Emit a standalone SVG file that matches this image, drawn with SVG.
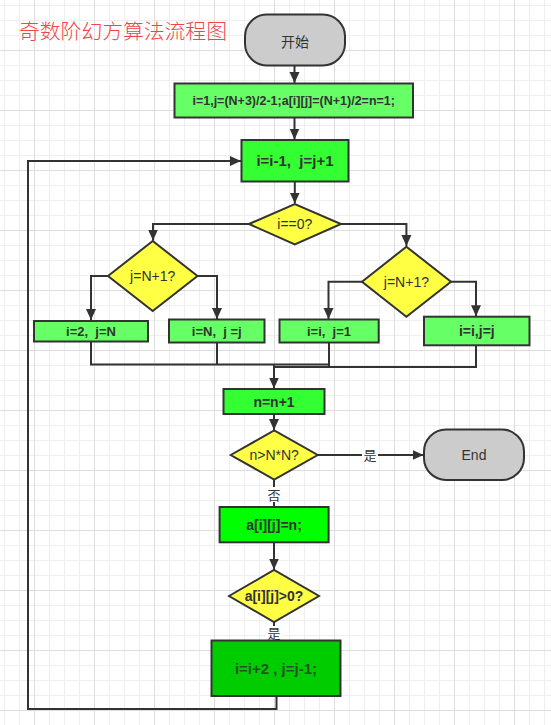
<svg xmlns="http://www.w3.org/2000/svg" width="551" height="725" viewBox="0 0 551 725">
<style>
.sh{stroke:#333;stroke-width:2}
.term{fill:#cccccc}
.dec{fill:#ffff44}
.g1{fill:#66ff66}
.g2{fill:#33ff33}
.g3{fill:#00ff00}
.g4{fill:#00cc00}
.ln{fill:none;stroke:#333;stroke-width:2}
.arr{marker-end:url(#ah)}
text{font-family:"Liberation Sans",Arial,"Noto Sans CJK SC",sans-serif;fill:#333;text-anchor:middle}
.b{font-weight:bold}
.cjk{font-family:"Noto Sans CJK SC","Liberation Sans",sans-serif}
.lblbg{fill:#ffffff}
</style>
<defs>
<pattern id="grid" patternUnits="userSpaceOnUse" x="34" y="50" width="60" height="60">
<path d="M15.5 0V60M30.5 0V60M45.5 0V60M0 15.5H60M0 30.5H60M0 45.5H60" stroke="#efefef" stroke-width="1" fill="none"/>
<path d="M0.5 0V60M0 0.5H60" stroke="#dddddd" stroke-width="1" fill="none"/>
</pattern>
<marker id="ah" markerUnits="userSpaceOnUse" markerWidth="12" markerHeight="12" viewBox="0 0 12 12" refX="11" refY="6" orient="auto">
<path d="M0 1L11 6L0 11Z" fill="#333"/>
</marker>
</defs>
<rect width="551" height="725" fill="#ffffff"/>
<rect width="551" height="725" fill="url(#grid)"/>

<text class="cjk" x="19" y="39" style="text-anchor:start;font-size:20.8px;fill:#ee4646;font-weight:300">奇数阶幻方算法流程图</text>

<g id="connectors">
<path class="ln arr" d="M294.5 65.5V83"/>
<path class="ln arr" d="M294.5 117.5V139.5"/>
<path class="ln arr" d="M294.8 181.5V203.5"/>
<path class="ln arr" d="M249 224H153V240.5"/>
<path class="ln arr" d="M341 224H406.4V246"/>
<path class="ln arr" d="M108 276H91V320"/>
<path class="ln arr" d="M197.5 276H217V319"/>
<path class="ln arr" d="M362 281.7H328.5V319"/>
<path class="ln arr" d="M451 281.7H476V316.2"/>
<path class="ln" d="M91 341.5V364.5H329"/>
<path class="ln" d="M217 342.5V364.5"/>
<path class="ln" d="M329 342.5V367H274"/>
<path class="ln" d="M476 345.5V367H329"/>
<path class="ln arr" d="M274 364.5V388.5"/>
<path class="ln arr" d="M274 414.5V430"/>
<path class="ln arr" d="M317.7 455H423.5"/>
<path class="ln" d="M274 479.5V507"/>
<path class="ln arr" d="M274 542.5V569.5"/>
<path class="ln" d="M274 622V640.5"/>
<path class="ln arr" d="M276.5 696V709H28V161H241"/>
</g>

<g id="label-yes1">
<rect class="lblbg" x="362" y="447" width="16" height="16"/>
<text class="cjk" x="370" y="460" style="font-size:13px">是</text>
</g>
<g id="label-no">
<rect class="lblbg" x="266" y="487" width="16" height="15"/>
<text class="cjk" x="274" y="499.5" style="font-size:13px">否</text>
</g>
<g id="label-yes2">
<rect class="lblbg" x="266" y="626" width="16" height="14"/>
<text class="cjk" x="274" y="638" style="font-size:13px">是</text>
</g>

<g id="start">
<rect class="sh term" x="245" y="14.5" width="100" height="51" rx="22"/>
<text class="cjk" x="295" y="46.5" style="font-size:14px">开始</text>
</g>
<g id="init">
<rect class="sh g1" x="174.5" y="83.5" width="238.5" height="34"/>
<text class="b" x="293.7" y="104.8" style="font-size:12.5px">i=1,j=(N+3)/2-1;a[i][j]=(N+1)/2=n=1;</text>
</g>
<g id="step">
<rect class="sh g2" x="241.5" y="140" width="107" height="41.5"/>
<text class="b" x="295" y="166" style="font-size:15px" xml:space="preserve">i=i-1,  j=j+1</text>
</g>
<g id="dec-i0">
<polygon class="sh dec" points="249,224 294.8,204 341,224 294.8,244.5"/>
<text x="294.8" y="229" style="font-size:14px">i==0?</text>
</g>
<g id="dec-left">
<polygon class="sh dec" points="108,276 152.7,241 197.5,276 152.7,311"/>
<text x="152.7" y="281" style="font-size:14px">j=N+1?</text>
</g>
<g id="dec-right">
<polygon class="sh dec" points="362,281.7 406.4,246.7 451,281.7 406.4,316.7"/>
<text x="406.4" y="286.7" style="font-size:14px">j=N+1?</text>
</g>
<g id="box-a">
<rect class="sh g1" x="34" y="321" width="114" height="20.5"/>
<text class="b" x="91" y="335.7" style="font-size:13px" xml:space="preserve">i=2,  j=N</text>
</g>
<g id="box-b">
<rect class="sh g1" x="169" y="319.5" width="95.5" height="23"/>
<text class="b" x="216.8" y="335.7" style="font-size:13px" xml:space="preserve">i=N,  j =j</text>
</g>
<g id="box-c">
<rect class="sh g1" x="279.5" y="319.5" width="99.2" height="23"/>
<text class="b" x="329" y="335.7" style="font-size:13px" xml:space="preserve">i=i,  j=1</text>
</g>
<g id="box-d">
<rect class="sh g1" x="424" y="316.7" width="105.5" height="28.6"/>
<text class="b" x="476.8" y="336" style="font-size:14px">i=i,j=j</text>
</g>
<g id="inc">
<rect class="sh g2" x="223.5" y="389" width="101" height="25"/>
<text class="b" x="274" y="406.5" style="font-size:14px">n=n+1</text>
</g>
<g id="dec-n">
<polygon class="sh dec" points="230.7,455 274.2,430.5 317.7,455 274.2,479.5"/>
<text x="274.2" y="460" style="font-size:14px">n&gt;N*N?</text>
</g>
<g id="end">
<rect class="sh term" x="424" y="429.5" width="100" height="50.5" rx="22"/>
<text x="474" y="460" style="font-size:14px">End</text>
</g>
<g id="assign">
<rect class="sh g3" x="219.6" y="507" width="109" height="35.3"/>
<text class="b" x="274" y="529.6" style="font-size:14px">a[i][j]=n;</text>
</g>
<g id="dec-a">
<polygon class="sh dec" points="229,596 274,570 319,596 274,622"/>
<text class="b" x="274" y="601" style="font-size:14px">a[i][j]&gt;0?</text>
</g>
<g id="adjust">
<rect class="sh g4" x="211.5" y="640.5" width="129" height="55.5"/>
<text class="b" x="276" y="673.5" style="font-size:15px;fill:#245224">i=i+2 , j=j-1;</text>
</g>
</svg>
